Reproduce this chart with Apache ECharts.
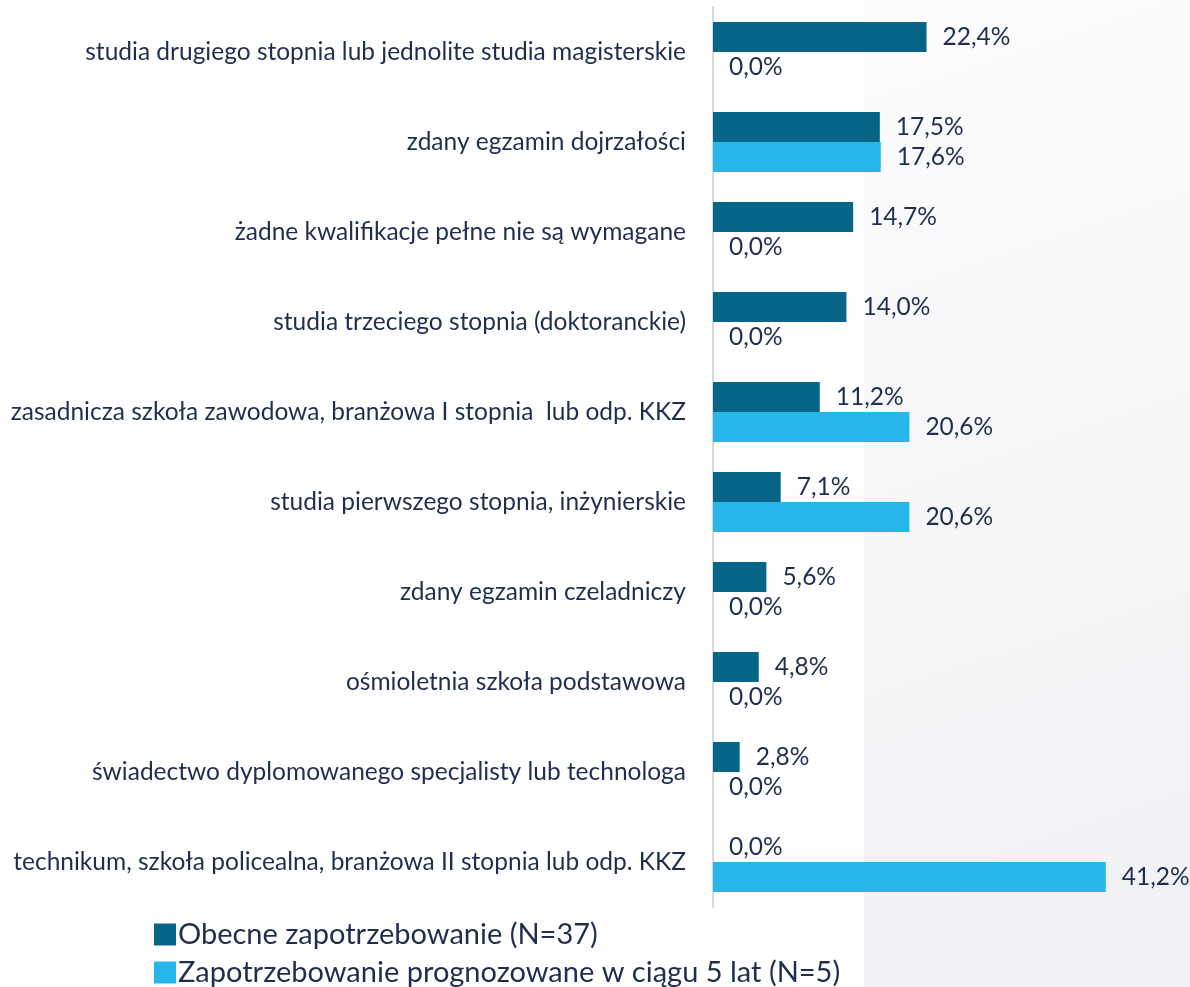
<!DOCTYPE html>
<html>
<head>
<meta charset="utf-8">
<script src="https://cdn.jsdelivr.net/npm/echarts@6/dist/echarts.min.js"></script>
<style>
  html, body { margin: 0; padding: 0; background: #ffffff; }
  #chart { width: 1190px; height: 987px; }
</style>
</head>
<body>
<div id="chart"></div>
<script>
// kategorie (od góry do dołu)
var categories = [
  "studia drugiego stopnia lub jednolite studia magisterskie",
  "zdany egzamin dojrzałości",
  "żadne kwalifikacje pełne nie są wymagane",
  "studia trzeciego stopnia (doktoranckie)",
  "zasadnicza szkoła zawodowa, branżowa I stopnia  lub odp. KKZ",
  "studia pierwszego stopnia, inżynierskie",
  "zdany egzamin czeladniczy",
  "ośmioletnia szkoła podstawowa",
  "świadectwo dyplomowanego specjalisty lub technologa",
  "technikum, szkoła policealna, branżowa II stopnia lub odp. KKZ"
];
var seriesNames = ["Obecne zapotrzebowanie (N=37)", "Zapotrzebowanie prognozowane w ciągu 5 lat (N=5)"];
var obecne = [22.4, 17.5, 14.7, 14.0, 11.2, 7.1, 5.6, 4.8, 2.8, 0.0];
var prognoza = [0.0, 17.6, 0.0, 0.0, 20.6, 20.6, 0.0, 0.0, 0.0, 41.2];

var textColor = "#1f2d4f";
var font = "Lato";

function pct(p) {
  return p.value.toFixed(1).replace(".", ",") + "%";
}

function legendRow(name, top) {
  return {
    orient: "horizontal",
    left: 149,
    top: top,
    itemWidth: 22,
    itemHeight: 22,
    icon: "rect",
    textStyle: { fontSize: 29, color: textColor, fontFamily: font, padding: [0, 0, 0, -3] },
    data: [name]
  };
}

var chart = echarts.init(document.getElementById("chart"));
var option = {
  backgroundColor: "#ffffff",
  textStyle: { fontFamily: font },
  graphic: [
    {
      type: "rect",
      z: -10,
      silent: true,
      shape: { x: 864, y: 0, width: 326, height: 987 },
      style: {
        fill: new echarts.graphic.LinearGradient(0, 0, 1, 1, [
          { offset: 0, color: "#fcfcfd" },
          { offset: 1, color: "#f0f1f4" }
        ])
      }
    }
  ],
  legend: [legendRow(seriesNames[0], 915), legendRow(seriesNames[1], 953)],
  grid: {
    left: 713,
    top: 7,
    width: 429,
    height: 900,
    containLabel: false
  },
  xAxis: {
    type: "value",
    min: 0,
    max: 45,
    show: false,
    splitLine: { show: false }
  },
  yAxis: {
    type: "category",
    inverse: true,
    data: categories,
    axisLine: { show: true, lineStyle: { color: "#d9d9d9", width: 2 } },
    axisTick: { show: false },
    axisLabel: { margin: 27, fontSize: 24.5, color: textColor, fontFamily: font }
  },
  series: [
    {
      name: seriesNames[0],
      type: "bar",
      data: obecne,
      barWidth: 30,
      barGap: "0%",
      itemStyle: { color: "#076687" },
      label: { show: true, position: "right", distance: 16, fontSize: 24.5, color: textColor, fontFamily: font, formatter: pct }
    },
    {
      name: seriesNames[1],
      type: "bar",
      data: prognoza,
      barWidth: 30,
      barGap: "0%",
      itemStyle: { color: "#25b7ea" },
      label: { show: true, position: "right", distance: 16, fontSize: 24.5, color: textColor, fontFamily: font, formatter: pct }
    }
  ]
};
chart.setOption(option);
</script>
</body>
</html>
